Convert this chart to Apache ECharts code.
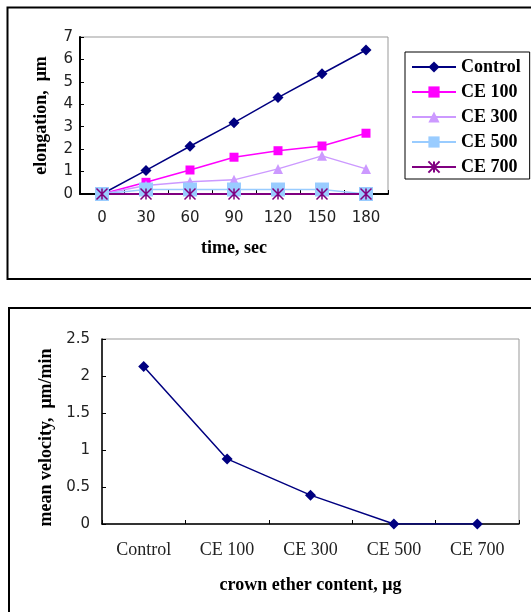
<!DOCTYPE html>
<html>
<head>
<meta charset="utf-8">
<script src="https://cdn.jsdelivr.net/npm/echarts@6/dist/echarts.min.js"></script>
<style>
html,body{margin:0;padding:0;background:#fff;}
#chart{width:531px;height:612px;}
</style>
</head>
<body>
<div id="chart"></div>
<script>
// ---- data ----
const times = ['0', '30', '60', '90', '120', '150', '180'];
const seriesNames = ['Control', 'CE 100', 'CE 300', 'CE 500', 'CE 700'];
const control = [0, 1.05, 2.13, 3.18, 4.30, 5.36, 6.42];
const ce100 = [0, 0.52, 1.07, 1.64, 1.93, 2.14, 2.71];
const ce300 = [0, 0.38, 0.55, 0.63, 1.12, 1.70, 1.12];
const ce500 = [0, 0.20, 0.20, 0.20, 0.20, 0.20, 0];
const ce700 = [0, 0, 0, 0, 0, 0, 0];
const groups = ['Control', 'CE 100', 'CE 300', 'CE 500', 'CE 700'];
const velocity = [2.13, 0.88, 0.39, 0, 0];

const serif = '"Liberation Serif", "Times New Roman", serif';
const sans = '"DejaVu Sans", sans-serif';
const asterisk = 'path://M0,0L10,10M10,0L0,10M5,0L5,10';

const chart = echarts.init(document.getElementById('chart'), null, {renderer: 'canvas'});

function mkLine(name, data, color, symbol, size, width, extra) {
  return Object.assign({
    name: name, type: 'line', xAxisIndex: 0, yAxisIndex: 0,
    data: data, symbol: symbol, symbolSize: size, showAllSymbol: true,
    lineStyle: {color: color, width: width},
    itemStyle: {color: color, borderWidth: 0},
    emphasis: {disabled: true}
  }, extra || {});
}

const option = {
  animation: false,
  backgroundColor: '#fff',
  graphic: [
    {type: 'rect', shape: {x: 7.5, y: 7.5, width: 540, height: 271.5}, style: {fill: 'none', stroke: '#000', lineWidth: 2}, z: 100},
    {type: 'rect', shape: {x: 9, y: 308, width: 540, height: 320}, style: {fill: 'none', stroke: '#000', lineWidth: 2}, z: 100}
  ],
  legend: {
    data: seriesNames,
    orient: 'vertical',
    left: 405, top: 52,
    backgroundColor: '#fff',
    borderColor: '#000', borderWidth: 1,
    padding: [6, 9, 3, 6],
    itemGap: 7,
    itemWidth: 44, itemHeight: 14,
    textStyle: {fontFamily: serif, fontWeight: 'bold', fontSize: 18, color: '#000'}
  },
  grid: [
    {left: 80, right: 143, top: 37, bottom: 418, show: true, borderColor: '#999', borderWidth: 1, backgroundColor: '#fff'},
    {left: 102, right: 12, top: 339, bottom: 88, show: true, borderColor: '#999', borderWidth: 1, backgroundColor: '#fff'}
  ],
  xAxis: [
    {
      gridIndex: 0, type: 'category', data: times, boundaryGap: true,
      axisLine: {lineStyle: {color: '#000', width: 2}},
      axisTick: {show: true, inside: true, length: 4, lineStyle: {color: '#000', width: 1}},
      axisLabel: {fontFamily: sans, fontSize: 15, color: '#222', margin: 17},
      name: 'time, sec', nameLocation: 'middle', nameGap: 45,
      nameTextStyle: {fontFamily: serif, fontWeight: 'bold', fontSize: 18, color: '#000'}
    },
    {
      gridIndex: 1, type: 'category', data: groups, boundaryGap: true,
      axisLine: {lineStyle: {color: '#000', width: 1.5}},
      axisTick: {show: true, inside: true, length: 4, lineStyle: {color: '#000', width: 1}},
      axisLabel: {fontFamily: serif, fontSize: 18, color: '#222', margin: 17},
      name: 'crown ether content, μg', nameLocation: 'middle', nameGap: 52,
      nameTextStyle: {fontFamily: serif, fontWeight: 'bold', fontSize: 18, color: '#000'}
    }
  ],
  yAxis: [
    {
      gridIndex: 0, type: 'value', min: 0, max: 7, interval: 1,
      splitLine: {show: false},
      axisLine: {show: true, lineStyle: {color: '#000', width: 2}},
      axisTick: {show: true, inside: true, length: 4, lineStyle: {color: '#000', width: 1}},
      axisLabel: {fontFamily: sans, fontSize: 15, color: '#222', margin: 7},
      name: 'elongation,  μm', nameLocation: 'middle', nameGap: 30, nameRotate: 90,
      nameTextStyle: {fontFamily: serif, fontWeight: 'bold', fontSize: 18, color: '#000'}
    },
    {
      gridIndex: 1, type: 'value', min: 0, max: 2.5, interval: 0.5,
      splitLine: {show: false},
      axisLine: {show: true, lineStyle: {color: '#000', width: 1.5}},
      axisTick: {show: true, inside: true, length: 4, lineStyle: {color: '#000', width: 1}},
      axisLabel: {fontFamily: sans, fontSize: 15, color: '#222', margin: 12},
      name: 'mean velocity,  μm/min', nameLocation: 'middle', nameGap: 44, nameRotate: 90,
      nameTextStyle: {fontFamily: serif, fontWeight: 'bold', fontSize: 18, color: '#000', padding: [0, 12, 0, 0]}
    }
  ],
  series: [
    mkLine(seriesNames[0], control, '#000080', 'diamond', 11, 1.5),
    mkLine(seriesNames[1], ce100, '#FF00FF', 'rect', 9, 1.5),
    mkLine(seriesNames[2], ce300, '#CC99FF', 'triangle', 10, 1.5),
    mkLine(seriesNames[3], ce500, '#99CCFF', 'rect', 14, 1.5),
    mkLine(seriesNames[4], ce700, '#800080', asterisk, 11, 2, {
      itemStyle: {color: '#800080', borderColor: '#800080', borderWidth: 1.5}
    }),
    {
      name: 'Mean velocity', type: 'line', xAxisIndex: 1, yAxisIndex: 1,
      data: velocity, symbol: 'diamond', symbolSize: 11, showAllSymbol: true,
      lineStyle: {color: '#000080', width: 1.5},
      itemStyle: {color: '#000080', borderWidth: 0},
      emphasis: {disabled: true}
    }
  ]
};
chart.setOption(option);
</script>
</body>
</html>
